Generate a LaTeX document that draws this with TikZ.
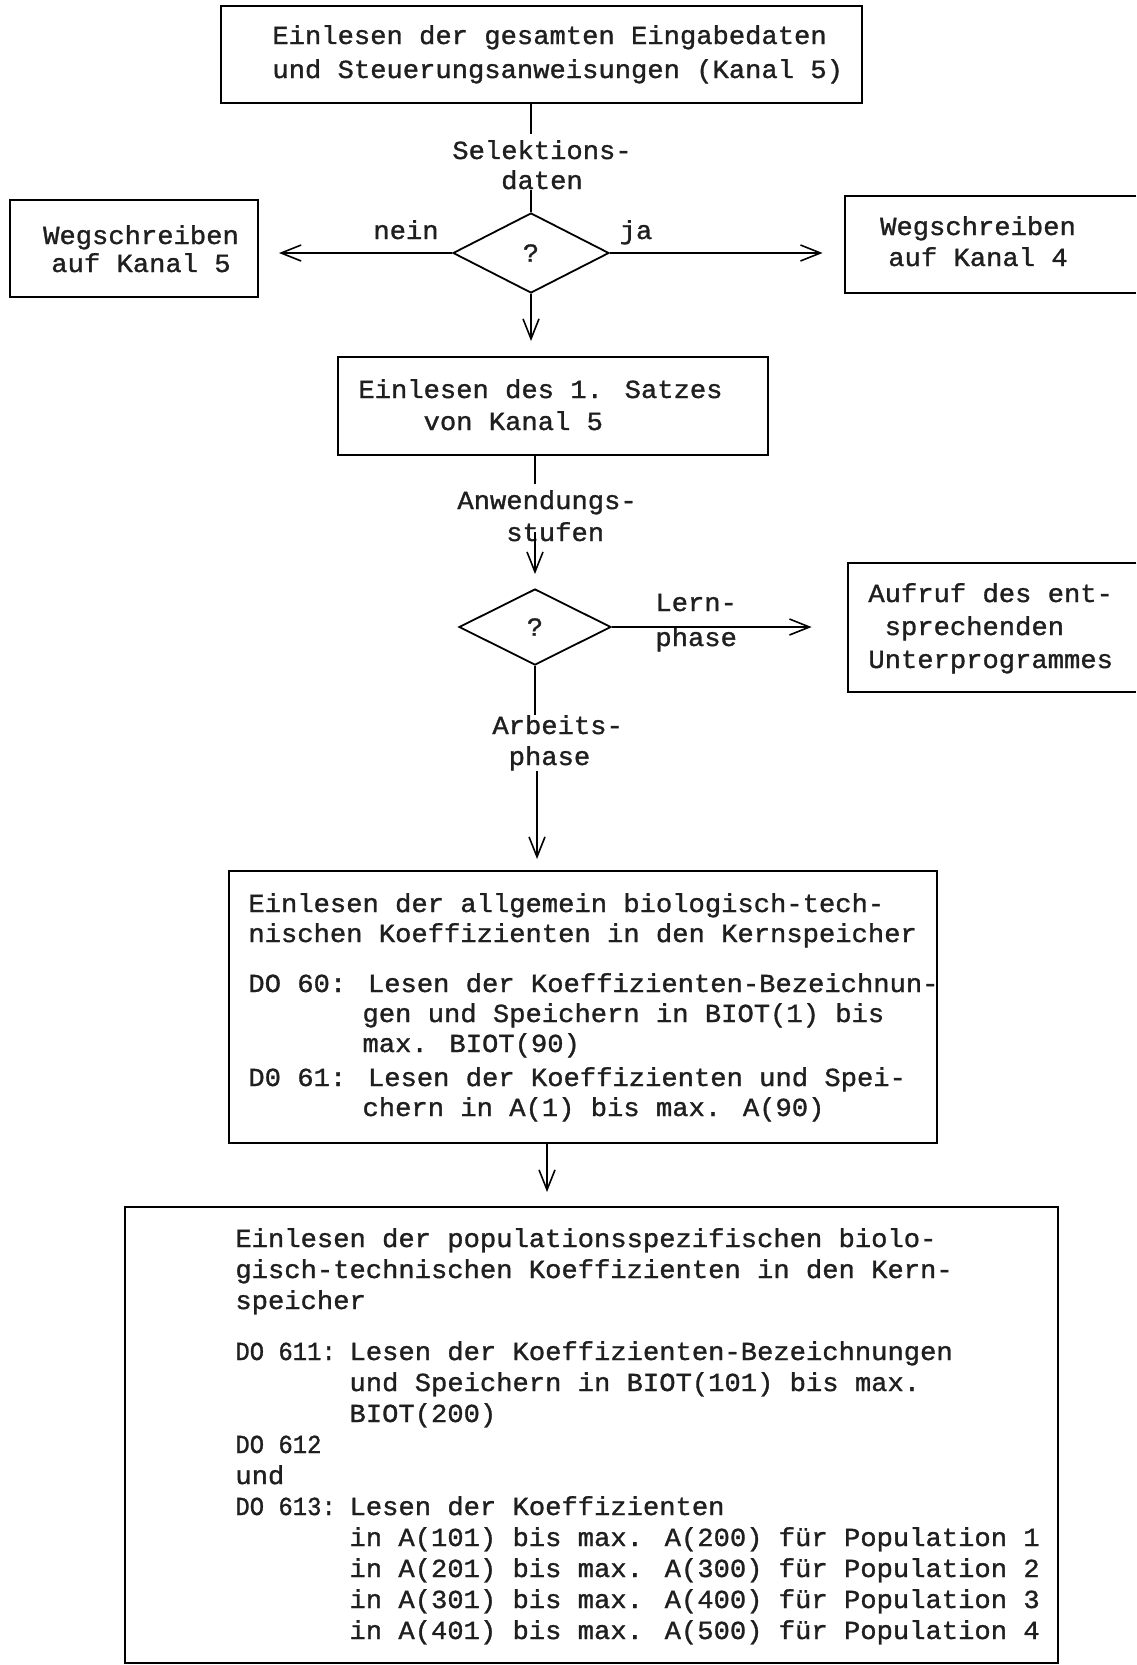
\documentclass[tikz,border=0pt]{standalone}
\usepackage{fontspec}
\usepackage{graphicx}
\newfontfamily\tw{Liberation Mono}[FakeStretch=1.045, FakeBold=1.2]
\usetikzlibrary{arrows.meta,shapes.geometric,fit}
% narrow set labels such as "DO 611:" and a fixed 7-column indent
\newcommand\narrow[1]{\scalebox{0.88}[1]{#1}}
\newcommand\dolab[1]{\rlap{\narrow{#1}}\phantom{xxxxxxx}}
\newcommand\twfont[1]{\tw\fontsize{13}{#1}\selectfont\lineskiplimit -100pt\relax}
\begin{document}
\begin{tikzpicture}[x=0.5pt,y=-0.5pt,
  box/.style={draw, line width=1pt, inner sep=0},
  frame/.style={inner sep=0},
  txt/.style={font={\twfont{#1}}, inner sep=0, text=black!88},
  txt/.default=16pt,
  dia/.style={draw, shape=diamond, line width=0.9pt, inner sep=0,
              font={\twfont{16pt}}, text=black!88},
  link/.style={line width=0.8pt},
  arr/.style={link, -{Straight Barb[length=10pt,width=8pt]}},
  open side/.style={line width=1pt}
]
\fill[white] (0,0) rectangle (1136,1665);
\useasboundingbox (0,0) rectangle (1136,1665);

% ---- boxes
\node[box, fit={(221,6) (862,103)}] (b1) {};
\node[box, fit={(10,200) (258,297)}] (wl) {};
\node[frame, fit={(845,196) (1136,293)}] (wr) {};
\draw[open side] (wr.north east) -- (wr.north west) -- (wr.south west) -- (wr.south east);
\node[box, fit={(338,357) (768,455)}] (b2) {};
\node[frame, fit={(848,563) (1136,692)}] (auf) {};
\draw[open side] (auf.north east) -- (auf.north west) -- (auf.south west) -- (auf.south east);
\node[box, fit={(229,871) (937,1143)}] (b4) {};
\node[box, fit={(125,1207) (1058,1663)}] (b5) {};

% ---- decisions
\node[dia, minimum width=78pt, minimum height=40pt] (d1) at (531,253) {?};
\node[dia, minimum width=76pt, minimum height=38pt] (d2) at (535,627) {?};

% ---- box texts (anchored at the baseline of their last line)
\node[txt=17pt, anchor=base west, align=left] (t1) at (272,78)
  {Einlesen der gesamten Eingabedaten\\und Steuerungsanweisungen (Kanal 5)};
\node[txt=14pt, anchor=base, align=center] (wlt) at (141,272)
  {Wegschreiben\\auf Kanal 5};
\node[txt=15.5pt, anchor=base, align=center] (wrt) at (978,266)
  {Wegschreiben\\auf Kanal 4};
\node[txt=16pt, anchor=base west, align=left] (t2) at (358,430)
  {Einlesen des 1. Satzes\\\phantom{xxxx}von Kanal 5};
\node[txt=16.5pt, anchor=base west, align=left] (auft) at (868,668)
  {Aufruf des ent-\\\phantom{x}sprechenden\\Unterprogrammes};
\node[txt=15pt, anchor=base west, align=left] (t4) at (248,1116)
  {Einlesen der allgemein biologisch-tech-\\
   nischen Koeffizienten in den Kernspeicher\\[10pt]
   DO 60: Lesen der Koeffizienten-Bezeichnun-\\
   \phantom{xxxxxxx}gen und Speichern in BIOT(1) bis\\
   \phantom{xxxxxxx}max. BIOT(90)\\[2pt]
   D0 61: Lesen der Koeffizienten und Spei-\\
   \phantom{xxxxxxx}chern in A(1) bis max. A(90)};
\node[txt=15.5pt, anchor=base west, align=left] (t5) at (235,1639)
  {Einlesen der populationsspezifischen biolo-\\
   gisch-technischen Koeffizienten in den Kern-\\
   speicher\\[10pt]
   \dolab{DO 611:}Lesen der Koeffizienten-Bezeichnungen\\
   \phantom{xxxxxxx}und Speichern in BIOT(101) bis max.\\
   \phantom{xxxxxxx}BIOT(200)\\
   \narrow{DO 612}\\
   und\\
   \dolab{DO 613:}Lesen der Koeffizienten\\
   \phantom{xxxxxxx}in A(101) bis max. A(200) für Population 1\\
   \phantom{xxxxxxx}in A(201) bis max. A(300) für Population 2\\
   \phantom{xxxxxxx}in A(301) bis max. A(400) für Population 3\\
   \phantom{xxxxxxx}in A(401) bis max. A(500) für Population 4};

% ---- connector labels
\node[txt=15pt, anchor=base, align=center] (sel) at (542,189) {Selektions-\\daten};
\node[txt, anchor=base] (nein) at (406,239) {nein};
\node[txt, anchor=base] (ja) at (636,239) {ja};
\node[txt=16pt, anchor=base west, align=left] (anw) at (457,541)
  {Anwendungs-\\\phantom{xxx}stufen};
\node[txt=17.5pt, anchor=base west, align=left] (lern) at (655,646) {Lern-\\phase};
\node[txt=15.5pt, anchor=base west, align=left] (arb) at (492,765)
  {Arbeits-\\\phantom{x}phase};

% ---- connectors
\draw[link] (d1.north |- b1.south) -- ([yshift=3pt]d1.north |- sel.north);
\draw[link] (d1.north |- sel.south) -- (d1.north);
\draw[arr, shorten >=10pt] (d1.west) -- (wl.east |- d1.west);
\draw[arr, shorten >=11pt] (d1.east) -- (wr.west |- d1.east);
\draw[arr, shorten >=7.5pt] (d1.south) -- (d1.south |- b2.north);
\draw[link] (d2.north |- b2.south) -- ([yshift=3pt]d2.north |- anw.north);
\draw[arr, shorten >=7pt] ([yshift=5pt]d2.north |- anw.south) -- (d2.north);
\draw[arr, shorten >=18pt] (d2.east) -- (auf.west |- d2.east);
\draw[link] (d2.south) -- (d2.south |- arb.north);
\draw[arr, shorten >=5.5pt] ([xshift=1pt]d2.south |- arb.south) -- ([xshift=1pt]d2.south |- b4.north);
\draw[arr, shorten >=7pt] ([xshift=-18pt]b4.south) -- ([xshift=-18pt]b4.south |- b5.north);
\end{tikzpicture}
\end{document}
